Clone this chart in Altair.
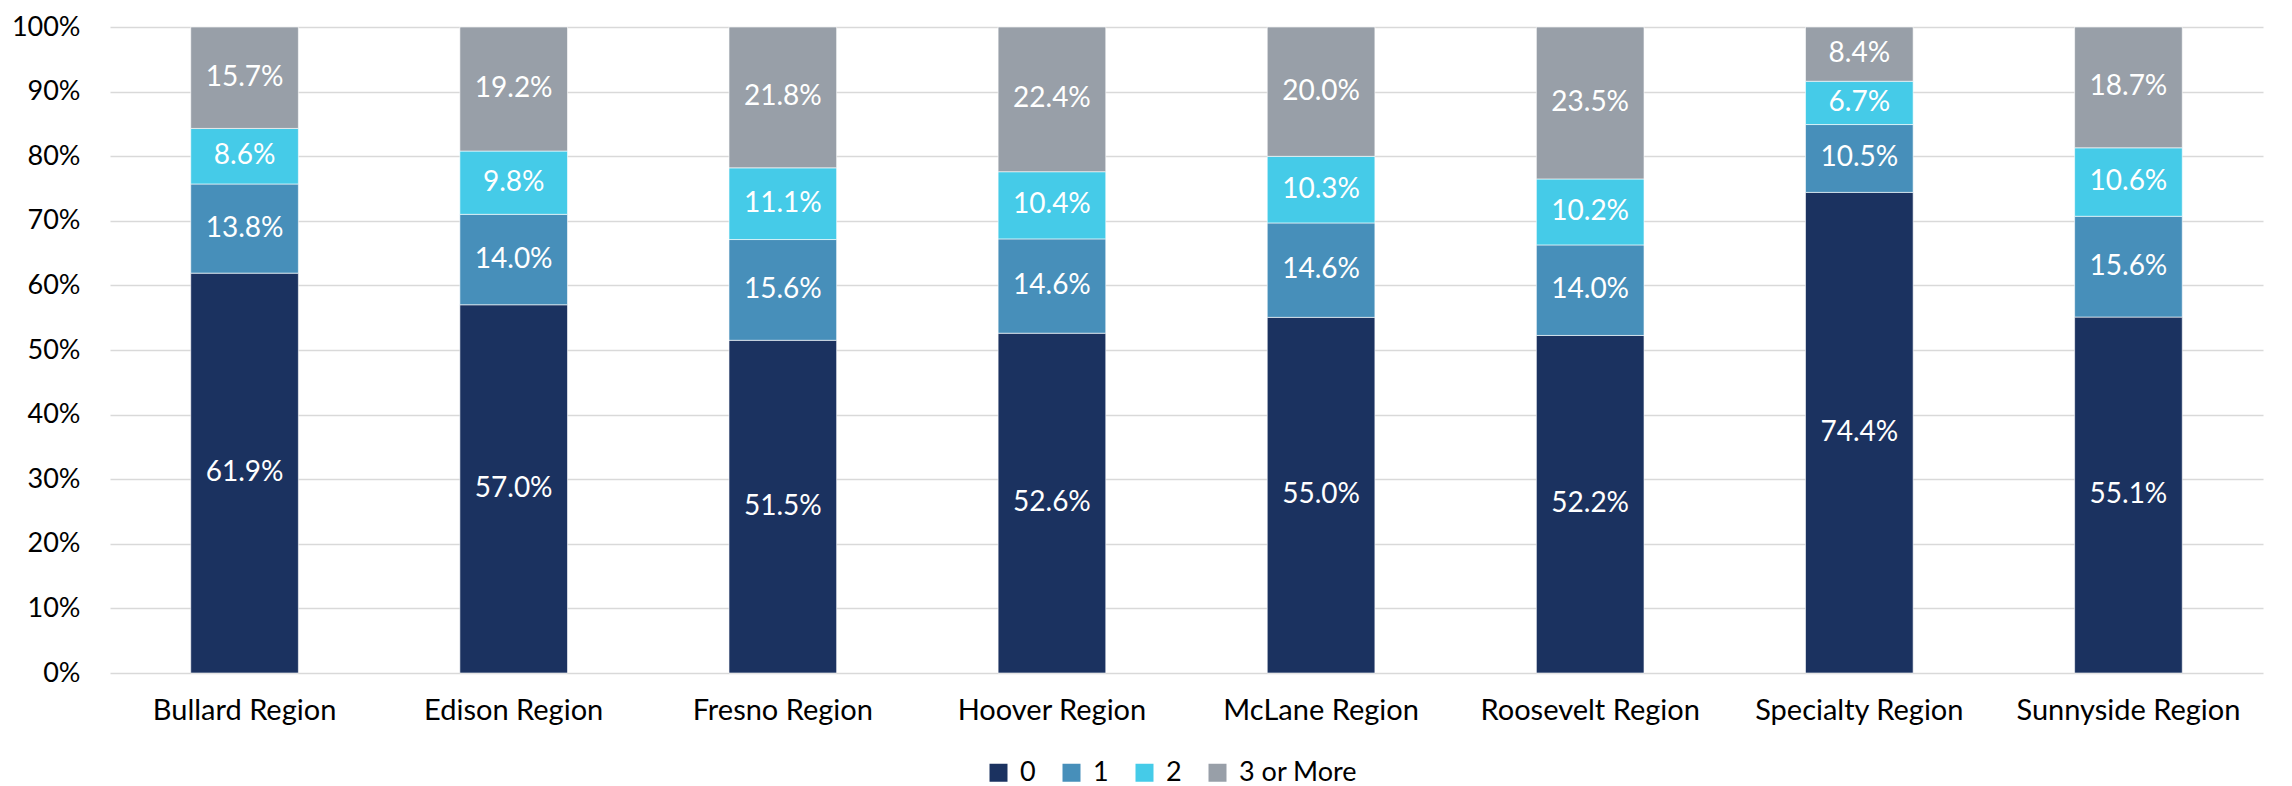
import altair as alt
import pandas as pd

regions = ["Bullard Region", "Edison Region", "Fresno Region", "Hoover Region",
           "McLane Region", "Roosevelt Region", "Specialty Region", "Sunnyside Region"]
categories = ["0", "1", "2", "3 or More"]
v0 = [61.9, 57.0, 51.5, 52.6, 55.0, 52.2, 74.4, 55.1]
v1 = [13.8, 14.0, 15.6, 14.6, 14.6, 14.0, 10.5, 15.6]
v2 = [8.6, 9.8, 11.1, 10.4, 10.3, 10.2, 6.7, 10.6]
v3 = [15.7, 19.2, 21.8, 22.4, 20.0, 23.5, 8.4, 18.7]
colors = ["#1B3260", "#478FBA", "#45CBE8", "#989FA8"]

rows = []
for i, r in enumerate(regions):
    for k, (c, vals) in enumerate(zip(categories, [v0, v1, v2, v3])):
        rows.append({"region": r, "cat": c, "order": k, "value": vals[i]})
df = pd.DataFrame(rows)

FONT = "Lato"
FS = 28

base = alt.Chart(df).transform_joinaggregate(
    total="sum(value)", groupby=["region"]
).transform_window(
    cum="sum(value)", groupby=["region"], sort=[alt.SortField("order")]
).transform_calculate(
    y_end="datum.cum / datum.total",
    y_start="(datum.cum - datum.value) / datum.total",
    y_mid="(datum.cum - datum.value / 2) / datum.total",
    label="format(datum.value, '.1f') + '%'",
)

x = alt.X("region:N", sort=regions, title=None,
          scale=alt.Scale(paddingInner=0.6, paddingOuter=0.3),
          axis=alt.Axis(labelAngle=0, ticks=False, domain=False, labelFontSize=29,
                        labelFont=FONT, labelColor="#000000", labelPadding=23,
                        labelLimit=0))

bars = base.mark_bar(stroke="#ffffff", strokeWidth=1, strokeOpacity=0.6).encode(
    x=x,
    y=alt.Y("y_start:Q", title=None, scale=alt.Scale(domain=[0, 1], nice=False),
            axis=alt.Axis(format=".0%", values=[i / 10 for i in range(11)],
                          ticks=False, domain=False, labelFontSize=27, labelFont=FONT,
                          labelColor="#000000", labelPadding=30, gridColor="#D9D9D9",
                          gridWidth=1.5)),
    y2="y_end:Q",
    color=alt.Color("cat:N", sort=categories,
                    scale=alt.Scale(domain=categories, range=colors),
                    legend=alt.Legend(title=None, orient="none", direction="horizontal",
                                      legendX=875, legendY=732, symbolType="square",
                                      symbolSize=324, symbolStrokeWidth=0,
                                      labelFontSize=27, labelFont=FONT,
                                      labelColor="#000000", columnPadding=22,
                                      labelOffset=8, padding=0)),
)

texts = base.mark_text(color="white", fontSize=FS, font=FONT, baseline="middle").encode(
    x=alt.X("region:N", sort=regions),
    y=alt.Y("y_mid:Q"),
    text="label:N",
)

chart = alt.layer(bars, texts).properties(
    width=2153, height=646,
    autosize=alt.AutoSizeParams(type="none"),
    padding={"left": 102, "top": 19, "right": 21, "bottom": 113},
).configure_view(stroke=None)

chart.save("out.html", embed_options={"renderer": "svg", "actions": False})
